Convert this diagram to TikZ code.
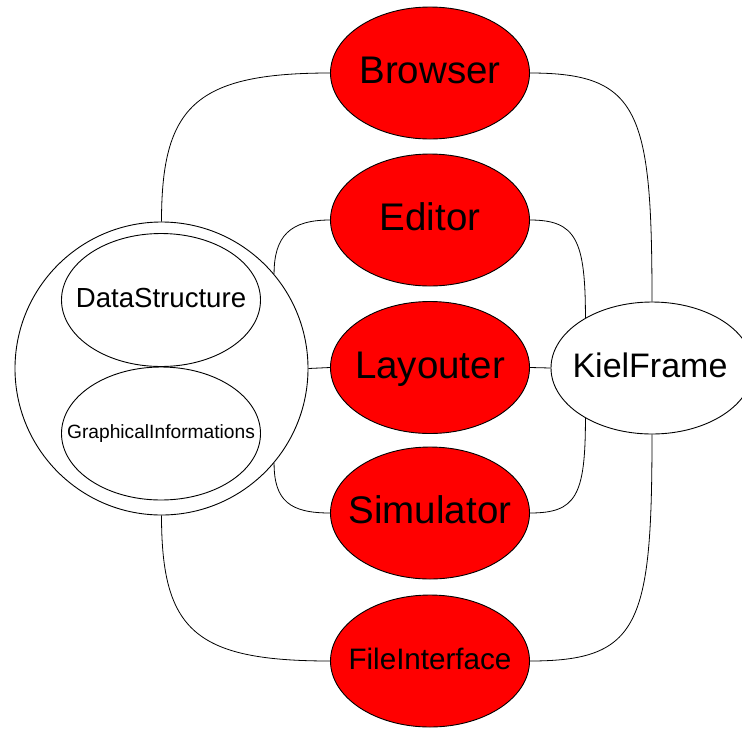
\documentclass[tikz,border=0pt]{standalone}
\usepackage{fontspec}
\setmainfont{Liberation Sans}
\usetikzlibrary{shapes.geometric}
% zero-size label centred on its capitals, so the text never widens its ellipse
\newcommand\zw[1]{\makebox[0pt]{\raisebox{-0.28em}{#1}}}

\begin{document}
\begin{tikzpicture}[x=1pt, y=-1pt,
  box/.style={ellipse, draw, line width=0.9pt, inner sep=0pt,
    minimum width=199pt, minimum height=132pt,
    text height=0pt, text depth=0pt},
  module/.style={box, fill=red, font=\fontsize{38.5}{40}\selectfont},
  link/.style={line width=0.8pt}]
\useasboundingbox (0,0) rectangle (742,729);

% storage core with its two parts
\node[circle, draw, line width=0.9pt, inner sep=0pt, minimum size=293pt] (core) at (161.5,368.5) {};
\node[box, minimum height=133pt, font=\fontsize{27.6}{30}\selectfont] (data) at (161,300) {\zw{DataStructure}};
\node[box, minimum height=133pt, font=\fontsize{19.2}{21}\selectfont] (gfx) at (161,433.5) {\zw{GraphicalInformations}};

% modules
\node[module] (browser) at (430,73) {\zw{Browser}};
\node[module] (editor) at (430,220) {\zw{Editor}};
\node[module] (layouter) at (430,367.5) {\zw{Layouter}};
\node[module] (simulator) at (430,513) {\zw{Simulator}};
\node[module, font=\fontsize{29.6}{32}\selectfont] (file) at (430,661) {\zw{FileInterface}};

% frame
\node[box, minimum width=202pt, font=\fontsize{34}{36}\selectfont] (kiel) at (652,368) {\hspace*{-4pt}\zw{KielFrame}};

% connections to the core
\draw[link] (core.north) to[out=90, in=180, out distance=115pt, in distance=135pt] (browser.west);
\draw[link] (core.40) to[out=90, in=180, out distance=38pt, in distance=40pt] (editor.west);
\draw[link] (core.east) -- (layouter.west);
\draw[link] (core.-40) to[out=-90, in=180, out distance=38pt, in distance=40pt] (simulator.west);
\draw[link] (core.south) to[out=-90, in=180, out distance=115pt, in distance=135pt] (file.west);

% connections to the frame
\draw[link] (browser.east) to[out=0, in=90, out distance=110pt, in distance=190pt] (kiel.north);
\draw[link] (editor.east) to[out=0, in=90, out distance=46pt, in distance=78pt] (kiel.143);
\draw[link] (layouter.east) -- (kiel.west);
\draw[link] (simulator.east) to[out=0, in=-90, out distance=46pt, in distance=78pt] (kiel.217);
\draw[link] (file.east) to[out=0, in=-90, out distance=110pt, in distance=190pt] (kiel.south);
\end{tikzpicture}
\end{document}
